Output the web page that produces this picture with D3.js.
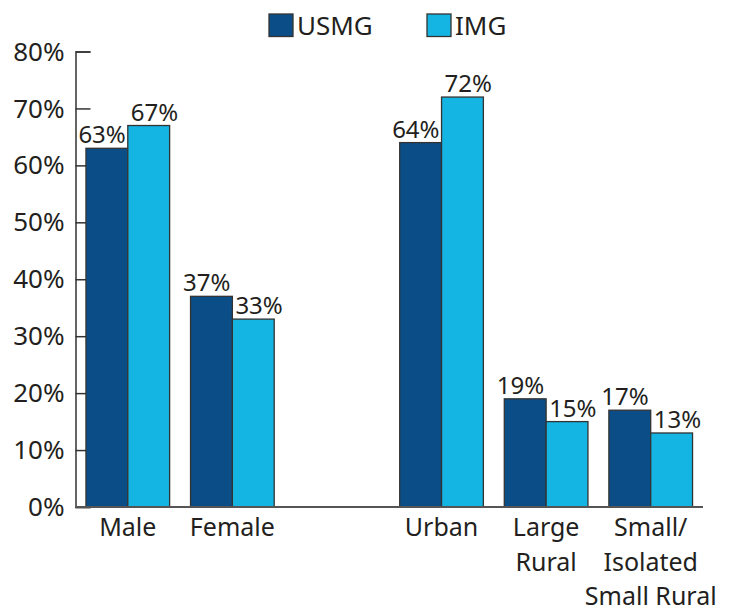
<!DOCTYPE html>
<meta charset="utf-8">
<script src="https://d3js.org/d3.v7.min.js"></script>
<style>
  body { margin: 0; background: #fff; }
  text { font-family: "Noto Sans", sans-serif; fill: #231f20; }
</style>
<div id="chart"></div>
<script>

// data
var categories = ["Male", "Female", "Urban", "Large Rural", "Small/Isolated Small Rural"];
var catLines = [["Male"], ["Female"], ["Urban"], ["Large", "Rural"], ["Small/", "Isolated", "Small Rural"]];
var usmg = [63, 37, 64, 19, 17];
var img = [67, 33, 72, 15, 13];
var series = ["USMG", "IMG"];
var colors = ["#0b4e87", "#14b4e3"];
var yTicks = [0, 10, 20, 30, 40, 50, 60, 70, 80];

// an empty slot sits between Female and Urban
var slots = ["Male", "Female", "_gap", "Urban", "Large Rural", "Small/Isolated Small Rural"];

var W = 734, H = 611;
var margin = {top: 51.5, left: 75.5, right: 31, bottom: 104};
var width = W - margin.left - margin.right,
    height = H - margin.top - margin.bottom;

var svg = d3.select("#chart").append("svg")
    .attr("width", W).attr("height", H);

var g = svg.append("g")
    .attr("transform", "translate(" + margin.left + "," + margin.top + ")");

var x = d3.scaleBand().domain(slots).range([0, width])
    .paddingInner(0.2).paddingOuter(0.1);
var xs = d3.scaleBand().domain(series).range([0, x.bandwidth()]);
var y = d3.scaleLinear().domain([0, 80]).range([height, 0]);

// y axis (ticks point inward)
var yAxis = g.append("g")
    .call(d3.axisRight(y).tickValues(yTicks).tickSize(15).tickFormat(""));
yAxis.select(".domain").attr("stroke", "#333").attr("stroke-width", 1.5);
yAxis.selectAll(".tick line").attr("stroke", "#333").attr("stroke-width", 1.5);

g.selectAll(".ylab").data(yTicks).enter().append("text")
    .attr("x", -11)
    .attr("y", function(d) { return y(d); })
    .attr("dy", "0.35em")
    .attr("text-anchor", "end")
    .style("font-size", "26px")
    .text(function(d) { return d + "%"; });

// bars
var rows = [];
categories.forEach(function(c, i) {
  rows.push({cat: c, s: "USMG", v: usmg[i], k: 0});
  rows.push({cat: c, s: "IMG", v: img[i], k: 1});
});

g.selectAll(".bar").data(rows).enter().append("rect")
    .attr("x", function(d) { return x(d.cat) + xs(d.s); })
    .attr("y", function(d) { return y(d.v); })
    .attr("width", xs.bandwidth())
    .attr("height", function(d) { return height - y(d.v); })
    .attr("fill", function(d) { return colors[d.k]; })
    .attr("stroke", "#333")
    .attr("stroke-width", 1.3);

// value labels
g.selectAll(".val").data(rows).enter().append("text")
    .attr("x", function(d) {
      return d.k == 0 ? x(d.cat) + xs(d.s) + xs.bandwidth() - 2 : x(d.cat) + xs(d.s) + 3;
    })
    .attr("y", function(d) { return y(d.v) - 5; })
    .attr("text-anchor", function(d) { return d.k == 0 ? "end" : "start"; })
    .style("font-size", "24px")
    .text(function(d) { return d.v + "%"; });

// baseline
g.append("line")
    .attr("x1", 0).attr("x2", width)
    .attr("y1", y(0)).attr("y2", y(0))
    .attr("stroke", "#555").attr("stroke-width", 2);

// category labels
categories.forEach(function(c, i) {
  var t = g.append("text")
      .attr("text-anchor", "middle")
      .style("font-size", "25px")
      .attr("transform", "translate(" + (x(c) + x.bandwidth() / 2) + "," + (height + 29) + ")");
  catLines[i].forEach(function(line, j) {
    t.append("tspan").attr("x", 0).attr("y", j * 34.5).text(line);
  });
});

// legend
var legX = [269, 427];
var leg = svg.selectAll(".leg").data(series).enter().append("g")
    .attr("transform", function(d, i) { return "translate(" + legX[i] + ",14)"; });
leg.append("rect")
    .attr("width", 24).attr("height", 22.5)
    .attr("fill", function(d, i) { return colors[i]; })
    .attr("stroke", "#333").attr("stroke-width", 1.3);
leg.append("text")
    .attr("x", 28).attr("y", 20.5)
    .style("font-size", "26px")
    .text(function(d) { return d; });

</script>
